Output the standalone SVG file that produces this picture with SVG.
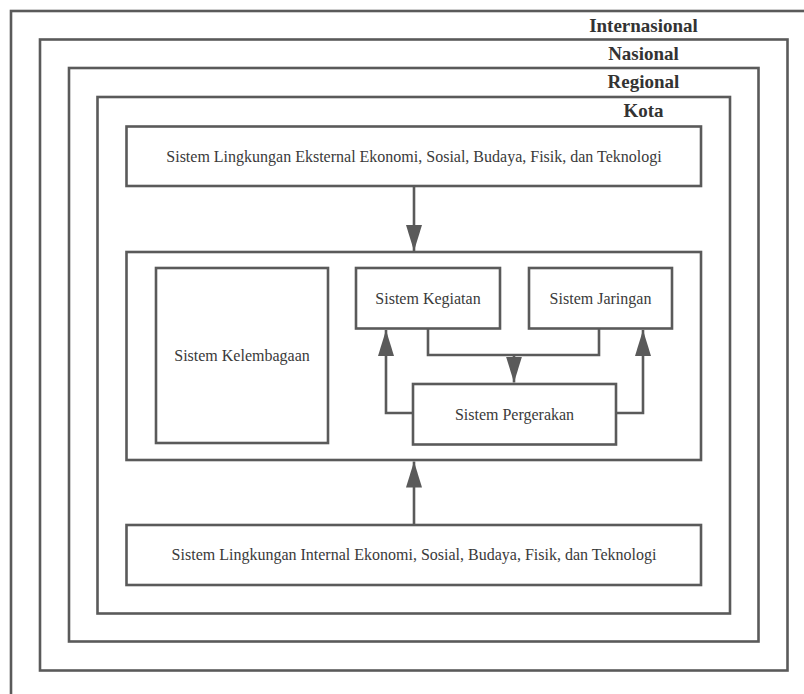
<svg xmlns="http://www.w3.org/2000/svg" width="804" height="694" viewBox="0 0 804 694">
<defs>
<style>
.frame{fill:none;stroke:#5a5a5a;stroke-width:2.6}
.box{fill:#ffffff;stroke:#5a5a5a;stroke-width:2.6}
.lvl{font-family:"Liberation Serif","Times New Roman",serif;font-weight:bold;font-size:19px;fill:#333333;text-anchor:middle}
.txt{font-family:"Liberation Serif","Times New Roman",serif;font-size:16px;fill:#3a3a3a;text-anchor:middle}
.con{fill:none;stroke:#5a5a5a;stroke-width:2.6}
</style>
<marker id="arr" markerUnits="userSpaceOnUse" markerWidth="26" markerHeight="16" refX="26" refY="8" orient="auto">
<path d="M0,0 L26,8 L0,16 Z" fill="#5a5a5a"/>
</marker>
</defs>
<rect width="804" height="694" fill="#ffffff"/>
<g id="internasional">
<rect class="frame" x="11" y="11" width="820" height="720"/>
<text class="lvl" x="643.5" y="31.5">Internasional</text>
</g>
<g id="nasional">
<rect class="frame" x="40" y="39.5" width="747.5" height="631"/>
<text class="lvl" x="643.5" y="59.5">Nasional</text>
</g>
<g id="regional">
<rect class="frame" x="69" y="68" width="689.5" height="573.5"/>
<text class="lvl" x="643.5" y="88">Regional</text>
</g>
<g id="kota">
<rect class="frame" x="97.5" y="97" width="632.5" height="516.5"/>
<text class="lvl" x="643.5" y="116.5">Kota</text>
</g>
<g id="eksternal">
<rect class="box" x="126.5" y="126.5" width="574.5" height="59.5"/>
<text class="txt" x="414" y="161.5">Sistem Lingkungan Eksternal Ekonomi, Sosial, Budaya, Fisik, dan Teknologi</text>
</g>
<g id="inti">
<rect class="box" x="126.5" y="252" width="574.5" height="208"/>
</g>
<g id="kelembagaan">
<rect class="box" x="156" y="268" width="172" height="175"/>
<text class="txt" x="242" y="361">Sistem Kelembagaan</text>
</g>
<g id="kegiatan">
<rect class="box" x="356" y="268" width="144" height="60.5"/>
<text class="txt" x="428" y="303.5">Sistem Kegiatan</text>
</g>
<g id="jaringan">
<rect class="box" x="529" y="268" width="143" height="60.5"/>
<text class="txt" x="600.5" y="303.5">Sistem Jaringan</text>
</g>
<g id="pergerakan">
<rect class="box" x="413" y="384" width="203" height="60.5"/>
<text class="txt" x="514.5" y="420">Sistem Pergerakan</text>
</g>
<g id="internal">
<rect class="box" x="126.5" y="525" width="574.5" height="60"/>
<text class="txt" x="414" y="559.5">Sistem Lingkungan Internal Ekonomi, Sosial, Budaya, Fisik, dan Teknologi</text>
</g>
<g id="connectors">
<path class="con" d="M414,186 L414,251" marker-end="url(#arr)"/>
<path class="con" d="M414,525 L414,461.5" marker-end="url(#arr)"/>
<path class="con" d="M428,328.5 L428,355 L599,355 L599,328.5"/>
<path class="con" d="M514,355 L514,382.5" marker-end="url(#arr)"/>
<path class="con" d="M413,413 L386,413 L386,330" marker-end="url(#arr)"/>
<path class="con" d="M616,413 L643,413 L643,330" marker-end="url(#arr)"/>
</g>
</svg>
